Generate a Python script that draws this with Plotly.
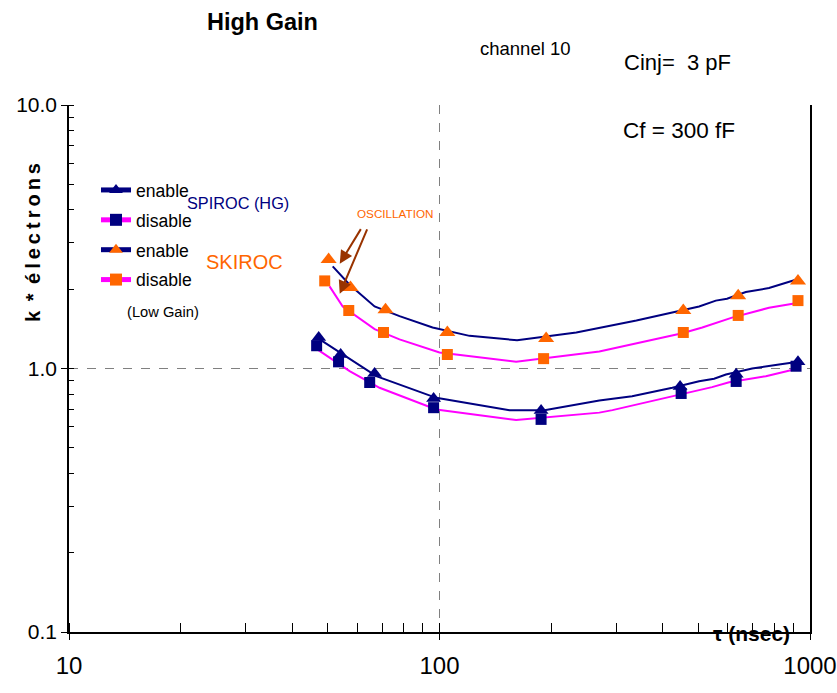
import numpy as np
import plotly.graph_objects as go

# ---- measured points (markers) ----
SPIROC_ENABLE_X = [47.2, 54.1, 66.8, 96.4, 188, 446, 632, 928]
SPIROC_ENABLE_Y = [1.31, 1.13, 0.958, 0.77, 0.693, 0.855, 0.95, 1.06]
SPIROC_DISABLE_X = [46.6, 53.4, 64.8, 96.4, 188, 449, 632, 917]
SPIROC_DISABLE_Y = [1.22, 1.06, 0.885, 0.71, 0.641, 0.804, 0.893, 1.02]
SKIROC_ENABLE_X = [50.2, 57.5, 71.5, 105, 194, 455, 640, 928]
SKIROC_ENABLE_Y = [2.59, 2.03, 1.67, 1.37, 1.30, 1.66, 1.89, 2.15]
SKIROC_DISABLE_X = [49.0, 56.9, 70.6, 105, 191, 455, 640, 928]
SKIROC_DISABLE_Y = [2.15, 1.66, 1.37, 1.13, 1.09, 1.37, 1.59, 1.81]

# ---- curves ----
SK_EN_LINE_X = [51.5, 57.2, 66.8, 78.0, 95.8, 120.5, 162, 234, 340, 443, 502, 557, 597, 671, 775, 934]
SK_EN_LINE_Y = [2.44, 2.08, 1.72, 1.58, 1.43, 1.33, 1.28, 1.37, 1.52, 1.66, 1.72, 1.81, 1.84, 1.95, 2.02, 2.19]
SK_DIS_LINE_X = [50.5, 54.8, 66.8, 78.0, 100, 161, 270, 361, 452, 512, 616, 775, 915]
SK_DIS_LINE_Y = [2.05, 1.72, 1.41, 1.29, 1.15, 1.06, 1.16, 1.27, 1.36, 1.43, 1.56, 1.70, 1.77]
SP_EN_LINE_X = [47.5, 53.7, 67.5, 98.0, 154.5, 192, 270, 331, 425, 502, 551, 593, 698, 825, 951]
SP_EN_LINE_Y = [1.29, 1.15, 0.935, 0.774, 0.695, 0.695, 0.756, 0.785, 0.845, 0.895, 0.914, 0.949, 1.0, 1.035, 1.066]
SP_DIS_LINE_X = [46.9, 57.2, 68.9, 98.0, 161, 270, 293, 361, 443, 544, 605, 760, 905]
SP_DIS_LINE_Y = [1.18, 0.977, 0.845, 0.699, 0.637, 0.680, 0.695, 0.745, 0.797, 0.850, 0.887, 0.935, 0.991]

X_TICKS = [10, 100, 1000]
X_TICK_TEXT = ["10", "100", "1000"]
Y_TICKS = [0.1, 1, 10]
Y_TICK_TEXT = ["0.1", "1.0", "10.0"]
LEGEND_NAMES = ["enable", "disable", "enable", "disable"]

# oscillation arrow targets
ARROW_X = [53.8, 53.8]
ARROW_Y = [2.50, 1.92]

NAVY = "#000080"
MAGENTA = "#FF00FF"
ORANGE = "#FF6600"
SANS = "Liberation Sans, Arial"

fig = go.Figure()

# curves
for xs, ys, col in [(SP_EN_LINE_X, SP_EN_LINE_Y, NAVY), (SP_DIS_LINE_X, SP_DIS_LINE_Y, MAGENTA),
                    (SK_EN_LINE_X, SK_EN_LINE_Y, NAVY), (SK_DIS_LINE_X, SK_DIS_LINE_Y, MAGENTA)]:
    fig.add_trace(go.Scatter(x=xs, y=ys, mode="lines", line=dict(color=col, width=2),
                             showlegend=False, hoverinfo="skip"))

# markers
marker_sets = [
    (SPIROC_ENABLE_X, SPIROC_ENABLE_Y, NAVY, "triangle-up", 13),
    (SPIROC_DISABLE_X, SPIROC_DISABLE_Y, NAVY, "square", 11),
    (SKIROC_ENABLE_X, SKIROC_ENABLE_Y, ORANGE, "triangle-up", 14),
    (SKIROC_DISABLE_X, SKIROC_DISABLE_Y, ORANGE, "square", 11),
]
for xs, ys, col, sym, sz in marker_sets:
    fig.add_trace(go.Scatter(x=xs, y=ys, mode="markers",
                             marker=dict(color=col, symbol=sym, size=sz, line=dict(width=0)),
                             showlegend=False))

# legend entries
leg_styles = [(NAVY, NAVY, "triangle-up"), (MAGENTA, NAVY, "square"),
              (NAVY, ORANGE, "triangle-up"), (MAGENTA, ORANGE, "square")]
for i, (name, (lc, mc, sym)) in enumerate(zip(LEGEND_NAMES, leg_styles)):
    fig.add_trace(go.Scatter(x=[None], y=[None], mode="lines+markers", name=name,
                             legendgroup="g%d" % i,
                             line=dict(color=lc, width=2),
                             marker=dict(color=mc, symbol=sym, size=13)))

L, R, T, B = 69, 27, 105, 61
W, H = 837, 693
pw, ph = W - L - R, H - T - B

def px(x):
    return (x - L) / pw

def py(y):
    return (H - B - y) / ph

annotations = [
    dict(text="<b>High Gain</b>", x=px(262), y=py(22), font=dict(size=23.5, color="black")),
    dict(text="channel 10", x=px(525), y=py(48), font=dict(size=18.5, color="black")),
    dict(text="Cinj=  3 pF", x=px(677), y=py(62), font=dict(size=22, color="black")),
    dict(text="Cf = 300 fF", x=px(679), y=py(130), font=dict(size=22.5, color="black")),
    dict(text="SPIROC (HG)", x=px(238), y=py(203), font=dict(size=16.3, color=NAVY)),
    dict(text="SKIROC", x=px(244), y=py(262), font=dict(size=20, color=ORANGE)),
    dict(text="(Low Gain)", x=px(163), y=py(312), font=dict(size=14.7, color="black")),
    dict(text="OSCILLATION", x=px(395), y=py(213), font=dict(size=11.7, color=ORANGE)),
    dict(text="<b>τ (nsec)</b>", x=px(751), y=py(633), font=dict(size=21, color="black")),
    dict(text="<b>k\u2009 *\u2009 \u00e9\u2009l\u2009e\u2009c\u2009t\u2009r\u2009o\u2009n\u2009s</b>", x=px(33), y=py(243), textangle=-90,
         font=dict(size=20, color="black")),
]
for a in annotations:
    a.update(xref="paper", yref="paper", showarrow=False, xanchor="center", yanchor="middle")

for xv, yv, axo, ayo in zip(ARROW_X, ARROW_Y, [22, 28], [-36, -66]):
    annotations.append(dict(x=np.log10(xv), y=np.log10(yv), xref="x", yref="y", text="",
                            showarrow=True, arrowhead=2, arrowsize=1.3, arrowwidth=2,
                            arrowcolor="#993300", ax=axo, ay=ayo))

fig.update_layout(
    width=W, height=H,
    margin=dict(l=L, r=R, t=T, b=B),
    plot_bgcolor="white", paper_bgcolor="white",
    font=dict(family=SANS, size=20, color="black"),
    annotations=annotations,
    showlegend=True,
    legend=dict(x=px(96), y=py(172), xanchor="left", yanchor="top",
                bgcolor="rgba(0,0,0,0)", font=dict(size=17.6, family=SANS),
                tracegroupgap=4, itemsizing="constant"),
    xaxis=dict(type="log", range=[1, 3], tickvals=X_TICKS, ticktext=X_TICK_TEXT,
               showline=True, linecolor="black", linewidth=1.5, mirror=False,
               ticks="outside", ticklen=6, tickcolor="black", tickwidth=1,
               ticklabelstandoff=5, automargin=False,
               showgrid=True, gridcolor="#808080", griddash="dash", gridwidth=1,
               tickfont=dict(size=24),
               minor=dict(ticks="inside", ticklen=9, tickcolor="black", dtick="D1", showgrid=False),
               zeroline=False),
    yaxis=dict(type="log", range=[-1, 1], tickvals=Y_TICKS, ticktext=Y_TICK_TEXT,
               showline=True, linecolor="black", linewidth=1.5, mirror=True,
               ticks="outside", ticklen=6, tickcolor="black", tickwidth=1,
               automargin=False,
               showgrid=True, gridcolor="#808080", griddash="dash", gridwidth=1,
               tickfont=dict(size=21),
               minor=dict(ticks="inside", ticklen=5, tickcolor="black", dtick="D1", showgrid=False),
               zeroline=False),
)

fig.write_html("out.html")
